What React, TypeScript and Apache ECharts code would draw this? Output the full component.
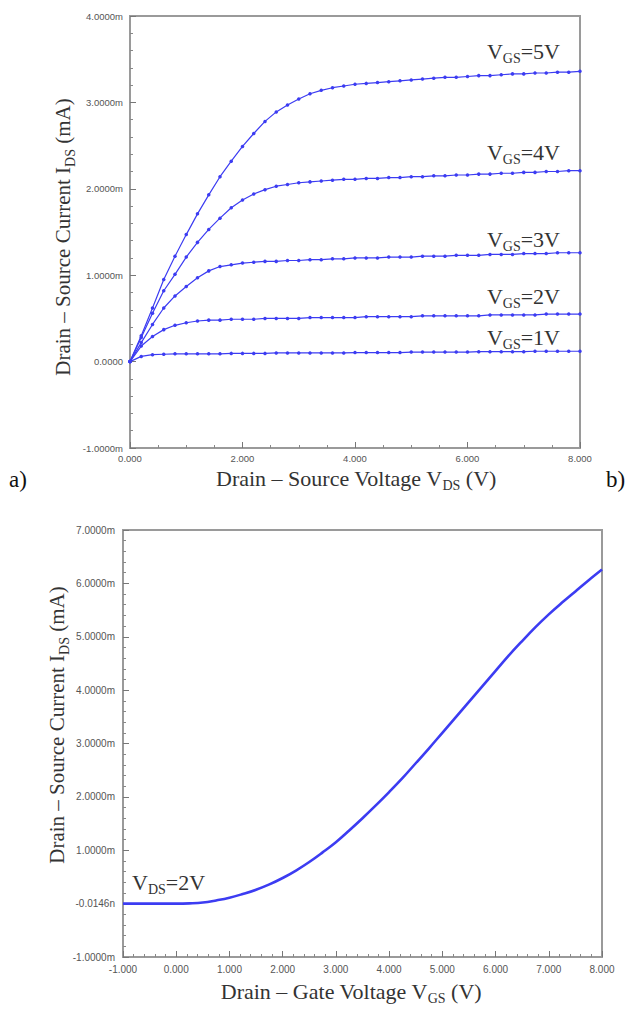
import React, { useEffect, useRef } from "react";
import * as echarts from "echarts";

// ---- Data: chart (a) output characteristics ----
const vdsTop = [0, 0.2, 0.4, 0.6, 0.8, 1.0, 1.2, 1.4, 1.6, 1.8, 2.0, 2.2, 2.4, 2.6, 2.8, 3.0, 3.2, 3.4, 3.6, 3.8, 4.0, 4.2, 4.4, 4.6, 4.8, 5.0, 5.2, 5.4, 5.6, 5.8, 6.0, 6.2, 6.4, 6.6, 6.8, 7.0, 7.2, 7.4, 7.6, 7.8, 8.0];
const idsVgs5 = [0, 0.30, 0.62, 0.95, 1.22, 1.47, 1.71, 1.93, 2.14, 2.32, 2.49, 2.64, 2.78, 2.89, 2.97, 3.04, 3.10, 3.14, 3.17, 3.19, 3.21, 3.22, 3.23, 3.24, 3.25, 3.26, 3.27, 3.28, 3.29, 3.29, 3.30, 3.31, 3.31, 3.32, 3.33, 3.33, 3.34, 3.34, 3.35, 3.35, 3.36];
const idsVgs4 = [0, 0.28, 0.56, 0.82, 1.01, 1.21, 1.38, 1.53, 1.66, 1.78, 1.87, 1.94, 1.99, 2.03, 2.05, 2.07, 2.08, 2.09, 2.10, 2.11, 2.11, 2.12, 2.12, 2.13, 2.13, 2.14, 2.14, 2.15, 2.15, 2.16, 2.16, 2.17, 2.17, 2.18, 2.18, 2.19, 2.19, 2.20, 2.20, 2.21, 2.21];
const idsVgs3 = [0, 0.22, 0.43, 0.62, 0.76, 0.87, 0.97, 1.05, 1.10, 1.12, 1.14, 1.15, 1.16, 1.16, 1.17, 1.17, 1.18, 1.18, 1.19, 1.19, 1.20, 1.20, 1.20, 1.21, 1.21, 1.21, 1.22, 1.22, 1.22, 1.23, 1.23, 1.23, 1.24, 1.24, 1.24, 1.25, 1.25, 1.25, 1.26, 1.26, 1.26];
const idsVgs2 = [0, 0.18, 0.29, 0.37, 0.42, 0.45, 0.47, 0.48, 0.48, 0.49, 0.49, 0.49, 0.50, 0.50, 0.50, 0.50, 0.51, 0.51, 0.51, 0.51, 0.51, 0.52, 0.52, 0.52, 0.52, 0.52, 0.53, 0.53, 0.53, 0.53, 0.53, 0.53, 0.54, 0.54, 0.54, 0.54, 0.54, 0.55, 0.55, 0.55, 0.55];
const idsVgs1 = [0, 0.06, 0.08, 0.085, 0.09, 0.09, 0.09, 0.09, 0.09, 0.095, 0.095, 0.095, 0.095, 0.10, 0.10, 0.10, 0.10, 0.10, 0.10, 0.10, 0.105, 0.105, 0.105, 0.105, 0.105, 0.11, 0.11, 0.11, 0.11, 0.11, 0.11, 0.115, 0.115, 0.115, 0.115, 0.115, 0.12, 0.12, 0.12, 0.12, 0.12];
const topCurveLabels = ["5V", "4V", "3V", "2V", "1V"];

// ---- Data: chart (b) transfer characteristic ----
const vgsBottom = [-1, -0.75, -0.5, -0.25, 0, 0.25, 0.5, 0.75, 1, 1.25, 1.5, 1.75, 2, 2.25, 2.5, 2.75, 3, 3.25, 3.5, 3.75, 4, 4.25, 4.5, 4.75, 5, 5.25, 5.5, 5.75, 6, 6.25, 6.5, 6.75, 7, 7.25, 7.5, 7.75, 8];
const idsBottom = [0, 0, 0, 0, 0, 0.005, 0.02, 0.06, 0.11, 0.18, 0.26, 0.36, 0.48, 0.62, 0.78, 0.96, 1.15, 1.37, 1.60, 1.84, 2.09, 2.35, 2.63, 2.91, 3.20, 3.49, 3.78, 4.07, 4.36, 4.65, 4.92, 5.18, 5.42, 5.64, 5.85, 6.06, 6.26];

const BLUE = "#3c3cf2";
const FRAME = "#9a9a9a";
const SERIF = "'Liberation Serif', 'Times New Roman', serif";
const SANS = "'Liberation Sans', Arial, sans-serif";

const zip = (xs: number[], ys: number[]) => xs.map((x, i) => [x, ys[i]]);

const subRich = {
  sub: { fontSize: 14, lineHeight: 14, verticalAlign: "bottom", fontFamily: SERIF, fill: "#333" },
};

export default function App() {
  const ref = useRef<HTMLDivElement>(null);
  useEffect(() => {
    if (!ref.current) return;
    const chart = echarts.init(ref.current, undefined, { renderer: "svg" });

    const axisCommon = {
      axisLine: { show: true, onZero: false, lineStyle: { color: FRAME, width: 2 } },
      axisTick: { show: true, inside: true, length: 6, lineStyle: { color: "#777", width: 1 } },
      minorTick: { show: true, length: 3, lineStyle: { color: "#888", width: 1 } },
      splitLine: { show: false },
      axisLabel: { fontSize: 9.5, color: "#555", fontFamily: SANS },
    };

    const curveLabel = (label: string, right: number, y: number) => ({
      type: "text",
      right: 640 - right,
      top: y - 15,
      style: {
        text: "V{sub|GS}=" + label,
        fontSize: 22,
        lineHeight: 28,
        fontFamily: SERIF,
        fill: "#333",
        rich: subRich,
      },
    });
    const labelYs = [52, 153, 240, 297, 338];

    const titleStyle = (text: string, size: number) => ({
      text,
      fontSize: size,
      lineHeight: 28,
      fontFamily: SERIF,
      fill: "#333",
      align: "center",
      verticalAlign: "middle",
      rich: subRich,
    });

    const option: any = {
      animation: false,
      grid: [
        { left: 130, top: 16, width: 450, height: 432, show: true, borderColor: FRAME, borderWidth: 2, backgroundColor: "transparent" },
        { left: 123, top: 530, width: 479, height: 427, show: true, borderColor: FRAME, borderWidth: 2, backgroundColor: "transparent" },
      ],
      xAxis: [
        {
          ...axisCommon,
          type: "value",
          gridIndex: 0,
          min: 0,
          max: 8,
          interval: 2,
          minorTick: { ...axisCommon.minorTick, splitNumber: 4 },
          axisLabel: { ...axisCommon.axisLabel, margin: 5, formatter: (v: number) => v.toFixed(3) },
        },
        {
          ...axisCommon,
          type: "value",
          gridIndex: 1,
          min: -1,
          max: 8,
          interval: 1,
          minorTick: { ...axisCommon.minorTick, splitNumber: 5 },
          axisLabel: { ...axisCommon.axisLabel, fontSize: 10, margin: 7, formatter: (v: number) => v.toFixed(3) },
        },
      ],
      yAxis: [
        {
          ...axisCommon,
          type: "value",
          gridIndex: 0,
          min: -1,
          max: 4,
          interval: 1,
          minorTick: { ...axisCommon.minorTick, splitNumber: 5 },
          axisLabel: { ...axisCommon.axisLabel, margin: 7, formatter: (v: number) => (v === 0 ? "0.0000" : v.toFixed(4) + "m") },
        },
        {
          ...axisCommon,
          type: "value",
          gridIndex: 1,
          min: -1,
          max: 7,
          interval: 1,
          minorTick: { ...axisCommon.minorTick, splitNumber: 5 },
          axisLabel: { ...axisCommon.axisLabel, fontSize: 10, margin: 8, formatter: (v: number) => (v === 0 ? "-0.0146n" : v.toFixed(4) + "m") },
        },
      ],
      series: [
        ...[idsVgs5, idsVgs4, idsVgs3, idsVgs2, idsVgs1].map((ys, i) => ({
          name: "VGS=" + topCurveLabels[i],
          type: "line",
          xAxisIndex: 0,
          yAxisIndex: 0,
          data: zip(vdsTop, ys),
          symbol: "circle",
          symbolSize: 3.5,
          showSymbol: true,
          lineStyle: { color: BLUE, width: 1.2 },
          itemStyle: { color: BLUE },
        })),
        {
          name: "VDS=2V",
          type: "line",
          xAxisIndex: 1,
          yAxisIndex: 1,
          data: zip(vgsBottom, idsBottom),
          smooth: 0.4,
          showSymbol: false,
          lineStyle: { color: BLUE, width: 2.6 },
        },
      ],
      graphic: [
        ...topCurveLabels.map((l, i) => curveLabel(l, 560, labelYs[i])),
        {
          type: "text",
          left: 132,
          top: 868,
          style: { text: "V{sub|DS}=2V", fontSize: 22, lineHeight: 28, fontFamily: SERIF, fill: "#333", rich: subRich },
        },
        { type: "text", x: 356, y: 478, style: titleStyle("Drain – Source Voltage V{sub|DS} (V)", 22) },
        { type: "text", x: 63, y: 237, rotation: Math.PI / 2, style: titleStyle("Drain – Source Current I{sub|DS} (mA)", 21) },
        { type: "text", x: 351, y: 991, style: titleStyle("Drain – Gate Voltage V{sub|GS} (V)", 22) },
        { type: "text", x: 57, y: 725, rotation: Math.PI / 2, style: titleStyle("Drain – Source Current I{sub|DS} (mA)", 21) },
        {
          type: "text",
          x: 9,
          y: 479,
          style: { text: "a)", fontSize: 23, fontFamily: SERIF, fill: "#111", verticalAlign: "middle" },
        },
        {
          type: "text",
          x: 606,
          y: 479,
          style: { text: "b)", fontSize: 23, fontFamily: SERIF, fill: "#111", verticalAlign: "middle" },
        },
      ],
    };
    chart.setOption(option);
    return () => chart.dispose();
  }, []);

  return (
    <div
      ref={ref}
      style={{ position: "fixed", left: 0, top: 0, width: 640, height: 1010, background: "#fff" }}
    />
  );
}
